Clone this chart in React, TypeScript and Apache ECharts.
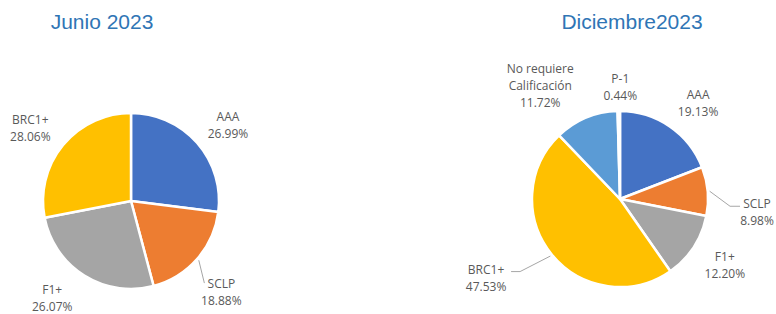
import React, { useEffect, useRef } from "react";
import * as echarts from "echarts";

const TITLES = ["Junio 2023", "Diciembre2023"];
const LEFT_NAMES = ["AAA", "SCLP", "F1+", "BRC1+"];
const LEFT_VALUES = [26.99, 18.88, 26.07, 28.06];
const RIGHT_NAMES = ["AAA", "SCLP", "F1+", "BRC1+", "No requiere\nCalificación", "P-1"];
const RIGHT_VALUES = [19.13, 8.98, 12.2, 47.53, 11.72, 0.44];

const COLORS = ["#4472C4", "#ED7D31", "#A5A5A5", "#FFC000", "#5B9BD5", "#70AD47"];

// layout / style config
const PIES = [
  { cx: 131, cy: 201, r: 88, titleX: 102 },
  { cx: 620, cy: 199, r: 88, titleX: 632 },
];
const LABEL_DIST = 124;
const NUDGES = [
  [[4, 6], [-3, 9.5], [-13, -8], [-5, 6]],
  [[8, 6], [13.5, 24], [1, -2], [-38, 0], [-32, 1], [2, 12]],
];
// leader lines: [elbow offset, end offset] relative to label centre
const LINES: Record<string, number[][]> = {
  "0-1": [[-17, -9]],
  "1-1": [[-27, -6], [-17, -6]],
  "1-3": [[34, -6], [25, -6]],
};

function midAngles(values: number[]) {
  const total = values.reduce((a, b) => a + b, 0);
  let acc = 0;
  return values.map((v) => {
    const m = ((acc + v / 2) / total) * Math.PI * 2;
    acc += v;
    return m;
  });
}

export default function App() {
  const ref = useRef<HTMLDivElement>(null);
  useEffect(() => {
    const chart = echarts.init(ref.current!, null, { renderer: "svg" });
    const sets = [
      { names: LEFT_NAMES, values: LEFT_VALUES },
      { names: RIGHT_NAMES, values: RIGHT_VALUES },
    ];
    const mids = sets.map((s) => midAngles(s.values));
    const series = sets.map((s, si) => ({
      type: "pie",
      center: [PIES[si].cx, PIES[si].cy],
      radius: [0, PIES[si].r],
      startAngle: 90,
      clockwise: true,
      avoidLabelOverlap: false,
      itemStyle: { borderColor: "#fff", borderWidth: 2.5 },
      label: {
        show: true,
        position: "outside",
        color: "#595959",
        fontFamily: "Open Sans",
        fontSize: 12,
        lineHeight: 17,
        align: "center",
        formatter: (p: any) => `${p.name}\n${p.value.toFixed(2)}%`,
      },
      labelLine: { show: false, lineStyle: { color: "#A6A6A6", width: 1 } },
      emphasis: { disabled: true },
      labelLayout: (params: any) => {
        const i = params.dataIndex;
        const P = PIES[si];
        const a = mids[si][i];
        const sx = Math.sin(a), cy = -Math.cos(a);
        const n = NUDGES[si][i];
        const x = P.cx + sx * LABEL_DIST + n[0];
        const y = P.cy + cy * LABEL_DIST + n[1];
        const res: any = { x, y, align: "center", verticalAlign: "middle" };
        const ln = LINES[`${si}-${i}`];
        if (ln) {
          const pts = [[P.cx + sx * (P.r + 2), P.cy + cy * (P.r + 2)]];
          ln.forEach((o) => pts.push([x + o[0], y + o[1]]));
          res.labelLinePoints = pts;
        }
        return res;
      },
      data: s.values.map((v, i) => ({
        name: s.names[i],
        value: v,
        itemStyle: { color: COLORS[i] },
        labelLine: { show: !!LINES[`${si}-${i}`] },
      })),
    }));
    chart.setOption({
      animation: false,
      graphic: TITLES.map((t, i) => ({
        type: "text",
        x: PIES[i].titleX,
        y: 21,
        style: {
          text: t,
          fill: "#2F75B5",
          font: '21px "Liberation Sans"',
          textAlign: "center",
          textVerticalAlign: "middle",
        },
      })),
      series,
    });
    return () => chart.dispose();
  }, []);
  return (
    <div
      ref={ref}
      style={{ position: "fixed", left: 0, top: 0, width: 776, height: 314, background: "#fff" }}
    />
  );
}
